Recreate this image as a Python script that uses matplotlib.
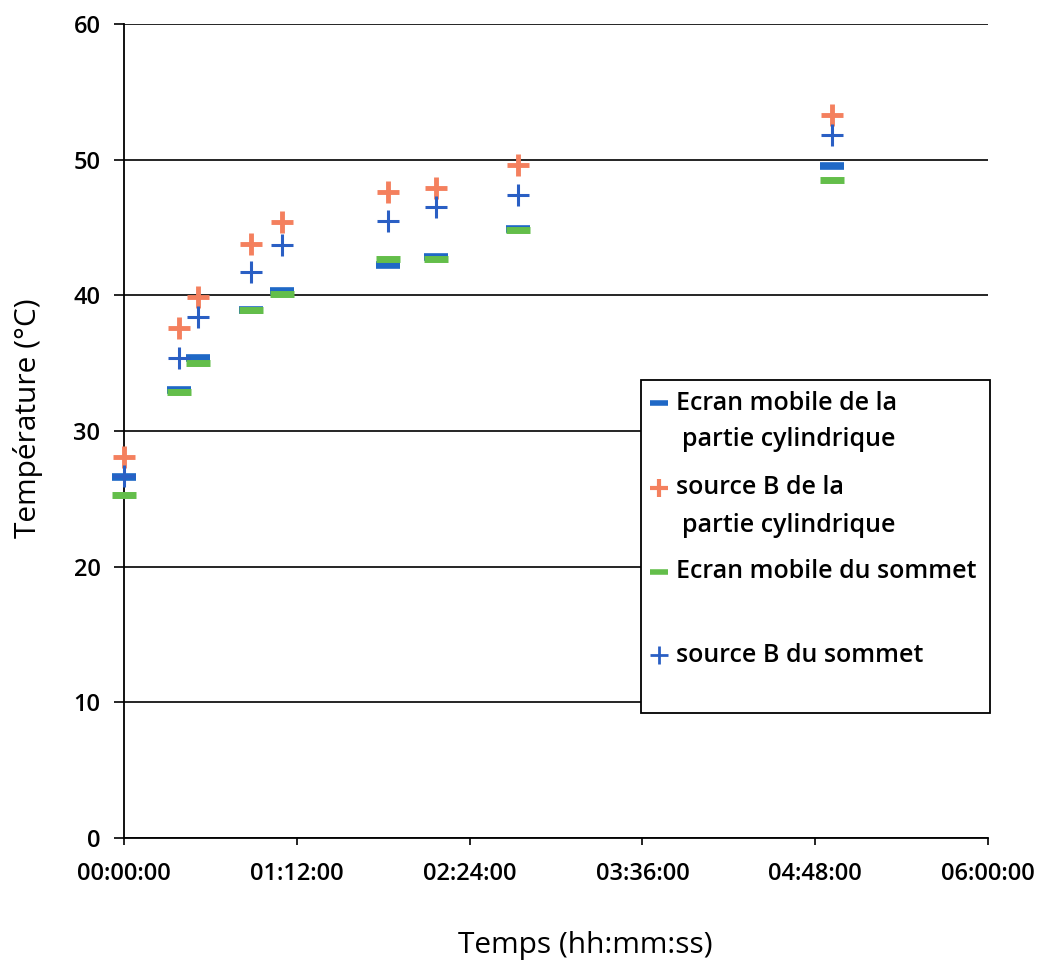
import matplotlib
matplotlib.use("Agg")
import matplotlib.pyplot as plt
from matplotlib.lines import Line2D
from matplotlib.patches import Rectangle
from matplotlib.ticker import FuncFormatter

plt.rcParams['font.family'] = ['Open Sans', 'DejaVu Sans']
plt.rcParams['font.weight'] = 'semibold'

# time of each measurement (minutes after start)
time_min = [0, 23, 31, 53, 66, 110, 130, 164, 295]
ecran_cyl = [26.6, 33.0, 35.4, 38.9, 40.3, 42.2, 42.8, 44.9, 49.5]
source_cyl = [28.1, 37.6, 39.9, 43.8, 45.4, 47.6, 47.9, 49.6, 53.3]
ecran_som = [25.3, 32.9, 35.0, 38.9, 40.1, 42.7, 42.7, 44.8, 48.5]
source_som = [26.7, 35.4, 38.4, 41.7, 43.7, 45.5, 46.5, 47.4, 51.8]

series_labels = ["Ecran mobile de la\npartie cylindrique",
                 "source B de la\npartie cylindrique",
                 "Ecran mobile du sommet",
                 "source B du sommet"]
x_ticks_min = [0, 72, 144, 216, 288, 360]
y_ticks = [0, 10, 20, 30, 40, 50, 60]

c_blue_dash = '#1F68C6'
c_orange = '#F4805E'
c_green = '#63BE4A'
c_blue_plus = '#2A5FC4'

fig = plt.figure(figsize=(10.39, 9.74), dpi=100)
ax = fig.add_axes([124/1039, 136/974, 864/1039, 814/974])

ax.plot(time_min, ecran_cyl, ls='none', marker='_', ms=17.5, mew=5.5, color=c_blue_dash, zorder=3, clip_on=False)
ax.plot(time_min, source_cyl, ls='none', marker='+', ms=16, mew=3.5, color=c_orange, zorder=3, clip_on=False)
ax.plot(time_min, ecran_som, ls='none', marker='_', ms=17.5, mew=5, color=c_green, zorder=3, clip_on=False)
ax.plot(time_min, source_som, ls='none', marker='+', ms=16, mew=2.2, color=c_blue_plus, zorder=4, clip_on=False)

ax.set_xlim(0, 360)
ax.set_ylim(0, 60)
ax.set_xticks(x_ticks_min)
ax.set_yticks(y_ticks)
ax.xaxis.set_major_formatter(FuncFormatter(lambda v, p: "%02d:%02d:00" % (int(v) // 60, int(v) % 60)))
ax.yaxis.grid(True, color='black', lw=1.2)
ax.set_axisbelow(True)
for s in ['top', 'right']:
    ax.spines[s].set_visible(False)
for s in ['left', 'bottom']:
    ax.spines[s].set_linewidth(1.3)
    ax.spines[s].set_color('black')
ax.tick_params(axis='both', labelsize=17, width=1.2, colors='black')
ax.tick_params(axis='x', length=5, pad=12)
ax.tick_params(axis='y', length=7, pad=10)

ax.set_xlabel("Temps (hh:mm:ss)", fontsize=21.5, va='center', fontweight='medium')
ax.xaxis.set_label_coords((585 - 124) / 864, (838 - 946) / 814)
ax.set_ylabel("Température (°C)", fontsize=21.5, va='center', fontweight='medium')
ax.yaxis.set_label_coords((28 - 124) / 864, (838 - 418) / 814)

# legend (drawn manually to mimic the original layout)
def ax_x(px):
    return (px - 124) / 864
def ax_y(py):
    return (838 - py) / 814

lx0, lx1, ly0, ly1 = ax_x(641), ax_x(990), ax_y(713), ax_y(380)
ax.add_patch(Rectangle((lx0, ly0), lx1 - lx0, ly1 - ly0, transform=ax.transAxes,
                       facecolor='white', edgecolor='black', lw=1.3, zorder=5, clip_on=False))
handles = [(c_blue_dash, '_', 5.5), (c_orange, '+', 3), (c_green, '_', 5), (c_blue_plus, '+', 2)]
rows = [403, 488, 572, 655]
second = [440, 525, None, None]
for (col, mk, mw), lab, r, r2 in zip(handles, series_labels, rows, second):
    ax.add_line(Line2D([ax_x(659)], [ax_y(r)], transform=ax.transAxes, marker=mk, ms=13,
                       mew=mw if mk == '+' else 4, color=col, ls='none', zorder=6, clip_on=False))
    parts = lab.split("\n")
    ax.text(ax_x(676), ax_y(r), parts[0], transform=ax.transAxes, fontsize=18,
            va='center', ha='left', zorder=6)
    if r2 is not None:
        ax.text(ax_x(682), ax_y(r2), parts[1], transform=ax.transAxes, fontsize=18,
                va='center', ha='left', zorder=6)

fig.savefig("out.png", dpi=100)
